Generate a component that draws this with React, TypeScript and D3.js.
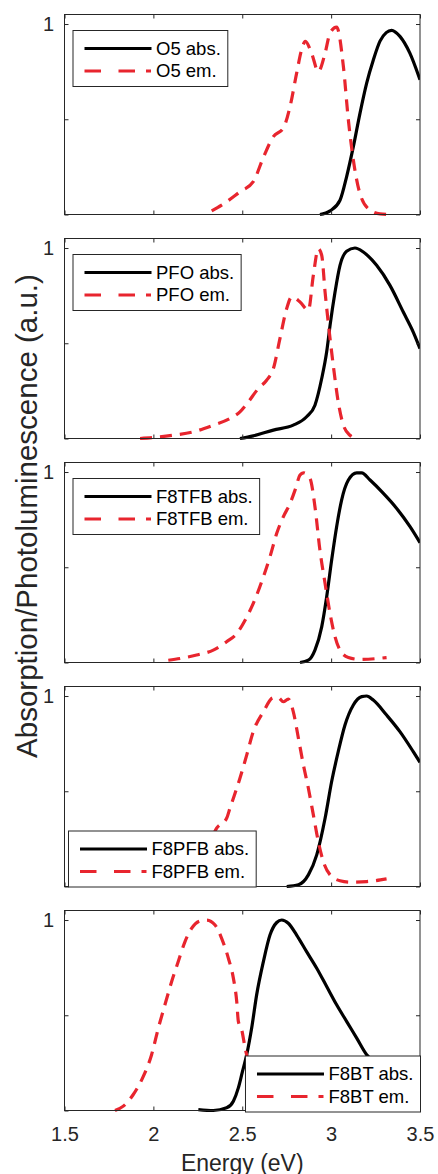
import React, { useEffect, useRef } from 'react';
import * as d3 from 'd3';

const W = 438;
const H = 1174;

const energyTicks = [1.5, 2, 2.5, 3, 3.5];
const yTicks = [0, 0.5, 1];
const yTickLabels = ['', '', '1'];
const materials = ['O5', 'PFO', 'F8TFB', 'F8PFB', 'F8BT'];
const legendCorners = ['topleft', 'topleft', 'topleft', 'bottomleft', 'bottomright'];

type Pt = [number, number];

const o5Abs: Pt[] = [[2.937, 0], [2.994, 0.019], [3.05, 0.075], [3.087, 0.198], [3.125, 0.356], [3.162, 0.53], [3.2, 0.69], [3.237, 0.81], [3.275, 0.91], [3.31, 0.955], [3.34, 0.967], [3.387, 0.935], [3.443, 0.847], [3.5, 0.707]];
const o5Em: Pt[] = [[2.328, 0.019], [2.384, 0.049], [2.487, 0.119], [2.562, 0.172], [2.619, 0.3], [2.675, 0.409], [2.731, 0.453], [2.769, 0.567], [2.806, 0.742], [2.834, 0.865], [2.855, 0.909], [2.89, 0.847], [2.928, 0.751], [2.966, 0.847], [2.994, 0.953], [3.031, 0.984], [3.069, 0.777], [3.097, 0.496], [3.125, 0.286], [3.162, 0.11], [3.219, 0.023], [3.275, 0.003], [3.35, 0]];

const pfoAbs: Pt[] = [[2.487, 0], [2.562, 0.014], [2.675, 0.044], [2.787, 0.07], [2.862, 0.114], [2.909, 0.175], [2.947, 0.315], [2.975, 0.455], [2.994, 0.594], [3.022, 0.769], [3.05, 0.909], [3.087, 0.983], [3.134, 1.0], [3.181, 0.979], [3.256, 0.909], [3.331, 0.804], [3.406, 0.664], [3.462, 0.559], [3.5, 0.472]];
const pfoEm: Pt[] = [[1.925, 0], [2.0, 0.005], [2.112, 0.017], [2.225, 0.035], [2.337, 0.07], [2.431, 0.105], [2.487, 0.14], [2.534, 0.192], [2.59, 0.262], [2.637, 0.306], [2.675, 0.367], [2.712, 0.524], [2.75, 0.682], [2.778, 0.743], [2.825, 0.717], [2.872, 0.673], [2.9, 0.857], [2.928, 0.997], [2.947, 0.962], [2.966, 0.769], [2.994, 0.524], [3.012, 0.385], [3.04, 0.192], [3.069, 0.07], [3.106, 0.017], [3.144, 0]];

const f8tfbAbs: Pt[] = [[2.825, 0], [2.872, 0.012], [2.909, 0.065], [2.947, 0.187], [2.975, 0.345], [3.003, 0.538], [3.031, 0.713], [3.059, 0.853], [3.097, 0.958], [3.144, 0.996], [3.172, 0.996], [3.219, 0.958], [3.294, 0.888], [3.369, 0.809], [3.444, 0.713], [3.5, 0.629]];
const f8tfbEm: Pt[] = [[2.084, 0.012], [2.15, 0.021], [2.243, 0.039], [2.337, 0.065], [2.412, 0.109], [2.469, 0.152], [2.516, 0.222], [2.562, 0.31], [2.619, 0.45], [2.656, 0.555], [2.694, 0.678], [2.731, 0.765], [2.769, 0.835], [2.797, 0.905], [2.825, 0.984], [2.844, 0.996], [2.881, 0.967], [2.909, 0.818], [2.937, 0.59], [2.966, 0.415], [2.994, 0.257], [3.022, 0.135], [3.05, 0.065], [3.097, 0.026], [3.162, 0.016], [3.312, 0.026]];

const f8pfbAbs: Pt[] = [[2.75, 0], [2.816, 0.009], [2.872, 0.061], [2.919, 0.166], [2.966, 0.358], [3.003, 0.551], [3.04, 0.708], [3.078, 0.848], [3.125, 0.953], [3.172, 0.997], [3.2, 1.0], [3.237, 0.979], [3.312, 0.9], [3.387, 0.813], [3.462, 0.708], [3.5, 0.652]];
const f8pfbEm: Pt[] = [[2.0, 0.01], [2.1, 0.04], [2.2, 0.1], [2.28, 0.18], [2.33, 0.26], [2.356, 0.306], [2.412, 0.358], [2.431, 0.411], [2.45, 0.463], [2.487, 0.568], [2.525, 0.69], [2.562, 0.813], [2.619, 0.918], [2.675, 0.991], [2.703, 0.991], [2.731, 0.97], [2.759, 0.984], [2.787, 0.918], [2.816, 0.778], [2.844, 0.638], [2.872, 0.516], [2.9, 0.376], [2.928, 0.236], [2.956, 0.131], [2.994, 0.061], [3.05, 0.03], [3.106, 0.023], [3.2, 0.026], [3.312, 0.04]];

const f8btAbs: Pt[] = [[2.253, 0.005], [2.337, 0], [2.412, 0.014], [2.45, 0.049], [2.478, 0.119], [2.5, 0.2], [2.525, 0.293], [2.553, 0.433], [2.581, 0.607], [2.619, 0.782], [2.656, 0.921], [2.694, 0.987], [2.722, 1.0], [2.759, 0.983], [2.806, 0.921], [2.862, 0.834], [2.919, 0.747], [2.975, 0.651], [3.031, 0.555], [3.087, 0.468], [3.144, 0.38], [3.2, 0.293], [3.25, 0.25], [3.3, 0.23], [3.35, 0.22], [3.4, 0.225], [3.45, 0.245], [3.5, 0.28]];
const f8btEm: Pt[] = [[1.784, 0], [1.831, 0.023], [1.887, 0.084], [1.944, 0.18], [1.99, 0.293], [2.028, 0.433], [2.065, 0.555], [2.103, 0.677], [2.14, 0.782], [2.178, 0.887], [2.215, 0.956], [2.262, 0.995], [2.3, 1.0], [2.347, 0.974], [2.384, 0.904], [2.422, 0.799], [2.45, 0.695], [2.469, 0.572], [2.478, 0.468], [2.497, 0.424], [2.516, 0.328], [2.534, 0.258], [2.56, 0.18], [2.6, 0.09], [2.65, 0.03], [2.7, 0.01], [2.75, 0]];

const absSeries = [o5Abs, pfoAbs, f8tfbAbs, f8pfbAbs, f8btAbs];
const emSeries = [o5Em, pfoEm, f8tfbEm, f8pfbEm, f8btEm];

const FONT = '"Liberation Sans", Arial, Helvetica, sans-serif';
const AXIS_COLOR = '#262626';
const RED = '#e8252e';

export default function App() {
  const ref = useRef<SVGSVGElement | null>(null);

  useEffect(() => {
    const svg = d3.select(ref.current);
    svg.selectAll('*').remove();

    const left = 64.5;
    const right = 420;
    const panelH = 200;
    const step = 224;
    const firstTop = 14.5;

    const x = d3.scaleLinear().domain([1.5, 3.5]).range([left, right]);

    materials.forEach((name, i) => {
      const top = firstTop + step * i;
      const bottom = top + panelH;
      const y = d3.scaleLinear().domain([0, 1.05]).range([bottom, top]);
      const g = svg.append('g');

      const clipId = `clip${i}`;
      g.append('clipPath').attr('id', clipId).append('rect')
        .attr('x', left).attr('y', top - 3).attr('width', right - left).attr('height', panelH + 6);

      const line = d3.line<Pt>().x(d => x(d[0])).y(d => y(d[1])).curve(d3.curveMonotoneX);

      const plot = g.append('g').attr('clip-path', `url(#${clipId})`);
      plot.append('path').attr('d', line(absSeries[i]) || '')
        .attr('fill', 'none').attr('stroke', '#000').attr('stroke-width', 3.2).attr('stroke-linejoin', 'round');
      plot.append('path').attr('d', line(emSeries[i]) || '')
        .attr('fill', 'none').attr('stroke', RED).attr('stroke-width', 3.2).attr('stroke-dasharray', '12,8');

      const isLast = i === materials.length - 1;
      const xb = d3.axisBottom(x).tickValues(energyTicks).tickSizeInner(-4).tickSizeOuter(0).tickPadding(16.5)
        .tickFormat(isLast ? (d => d3.format('')(d as number)) : () => '');
      const xt = d3.axisTop(x).tickValues(energyTicks).tickSizeInner(-4).tickSizeOuter(0).tickFormat(() => '');
      const yl = d3.axisLeft(y).tickValues(yTicks).tickSizeInner(-4).tickSizeOuter(0).tickPadding(10.5)
        .tickFormat((_, k) => yTickLabels[k]);
      const yr = d3.axisRight(y).tickValues(yTicks).tickSizeInner(-4).tickSizeOuter(0).tickFormat(() => '');

      const axes = [
        g.append('g').attr('transform', `translate(0,${bottom})`).call(xb),
        g.append('g').attr('transform', `translate(0,${top})`).call(xt),
        g.append('g').attr('transform', `translate(${left},0)`).call(yl),
        g.append('g').attr('transform', `translate(${right},0)`).call(yr),
      ];
      axes.forEach(a => {
        a.select('.domain').remove();
        a.selectAll('line').attr('stroke', AXIS_COLOR).attr('stroke-width', 1);
        a.selectAll('text').attr('fill', AXIS_COLOR).attr('font-family', FONT).attr('font-size', 20);
      });
      g.append('rect').attr('x', left).attr('y', top).attr('width', right - left).attr('height', panelH)
        .attr('fill', 'none').attr('stroke', AXIS_COLOR).attr('stroke-width', 1);

      // legend
      const lg = g.append('g');
      const box = lg.append('rect').attr('fill', '#fff').attr('stroke', AXIS_COLOR).attr('stroke-width', 1);
      const labels = [`${name} abs.`, `${name} em.`];
      const texts = labels.map(t => lg.append('text').text(t)
        .attr('font-family', FONT).attr('font-size', 18.5).attr('fill', '#000')
        .attr('dy', '0.35em'));
      const tw = Math.max(...texts.map(t => (t.node() as SVGTextElement).getComputedTextLength()));
      const bw = 83 + tw + 7;
      const bh = 56;
      const corner = legendCorners[i];
      let bx = left + 8.5;
      let by = top + 16;
      if (corner === 'bottomleft') { bx = left + 4; by = bottom - bh + 0.5; }
      if (corner === 'bottomright') { bx = right - bw + 0.5; by = bottom - bh + 1.5; }
      box.attr('x', bx).attr('y', by).attr('width', bw).attr('height', bh);
      const rows = [by + 18, by + 40.5];
      texts.forEach((t, k) => t.attr('x', bx + 83).attr('y', rows[k]));
      lg.append('line').attr('x1', bx + 11.5).attr('x2', bx + 78.5).attr('y1', rows[0]).attr('y2', rows[0])
        .attr('stroke', '#000').attr('stroke-width', 3.2);
      lg.append('line').attr('x1', bx + 11.5).attr('x2', bx + 78.5).attr('y1', rows[1]).attr('y2', rows[1])
        .attr('stroke', RED).attr('stroke-width', 3.2).attr('stroke-dasharray', '16.5,17.5,16.5,11,5,100');
    });

    svg.append('text').text('Energy (eV)')
      .attr('x', (left + right) / 2).attr('y', 1170.5).attr('text-anchor', 'middle')
      .attr('font-family', FONT).attr('font-size', 23).attr('fill', AXIS_COLOR);

    svg.append('text').text('Absorption/Photoluminescence (a.u.)')
      .attr('transform', 'translate(36.5,516) rotate(-90)').attr('text-anchor', 'middle')
      .attr('font-family', FONT).attr('font-size', 29.5).attr('fill', AXIS_COLOR);
  }, []);

  return (
    <svg ref={ref} width={W} height={H} style={{ position: 'absolute', left: 0, top: 0, background: '#fff' }} />
  );
}
